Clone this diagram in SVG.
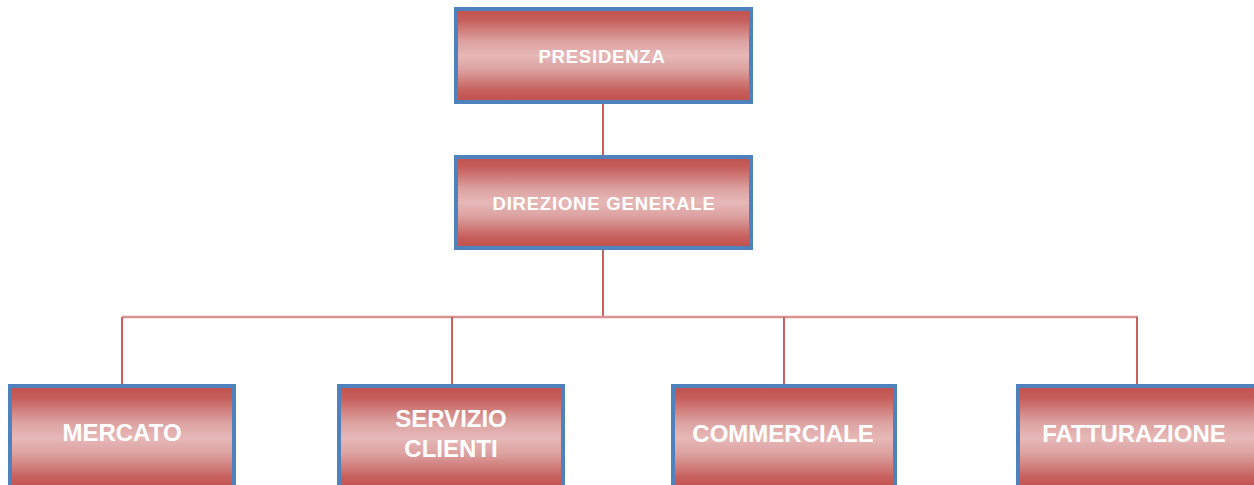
<svg xmlns="http://www.w3.org/2000/svg" width="1254" height="485" viewBox="0 0 1254 485">
<defs>
<linearGradient id="g" x1="0" y1="0" x2="0" y2="1">
<stop offset="0" stop-color="#c0504d"/>
<stop offset="0.12" stop-color="#c65f5c"/>
<stop offset="0.35" stop-color="#dca2a1"/>
<stop offset="0.5" stop-color="#e6b8b7"/>
<stop offset="0.65" stop-color="#dca2a1"/>
<stop offset="0.88" stop-color="#c65f5c"/>
<stop offset="1" stop-color="#c0504d"/>
</linearGradient>
</defs>
<style>
.box{fill:url(#g);stroke:#4f81bd;stroke-width:4}
.t1{font-family:"Liberation Sans",Arial,sans-serif;font-weight:bold;font-size:18.5px;letter-spacing:0.8px;fill:#ffffff;text-anchor:middle}
.t2{font-family:"Liberation Sans",Arial,sans-serif;font-weight:bold;font-size:24px;fill:#ffffff;text-anchor:middle}
.v{stroke:#c8605e;stroke-width:2;fill:none}
.h{stroke:#d99392;stroke-width:2.5;fill:none}
</style>
<rect width="1254" height="485" fill="#ffffff"/>
<g id="connectors">
<line class="v" x1="603" y1="103" x2="603" y2="156"/>
<line class="v" x1="603" y1="249" x2="603" y2="317"/>
<line class="h" x1="122" y1="317" x2="1138" y2="317"/>
<line class="v" x1="122" y1="317" x2="122" y2="384"/>
<line class="v" x1="452" y1="317" x2="452" y2="384"/>
<line class="v" x1="784" y1="317" x2="784" y2="384"/>
<line class="v" x1="1137" y1="317" x2="1137" y2="384"/>
</g>
<g id="presidenza">
<rect class="box" x="456" y="9" width="295" height="93"/>
<text class="t1" x="602" y="63">PRESIDENZA</text>
</g>
<g id="direzione">
<rect class="box" x="456" y="157" width="295" height="91"/>
<text class="t1" x="604" y="210">DIREZIONE GENERALE</text>
</g>
<g id="mercato">
<rect class="box" x="10" y="386" width="224" height="104"/>
<text class="t2" x="122" y="441">MERCATO</text>
</g>
<g id="servizio">
<rect class="box" x="339" y="386" width="224" height="104"/>
<text class="t2" x="451" y="427">SERVIZIO</text>
<text class="t2" x="451" y="457">CLIENTI</text>
</g>
<g id="commerciale">
<rect class="box" x="673" y="386" width="222" height="104"/>
<text class="t2" x="783" y="442">COMMERCIALE</text>
</g>
<g id="fatturazione">
<rect class="box" x="1018" y="386" width="240" height="104"/>
<text class="t2" x="1134" y="442">FATTURAZIONE</text>
</g>
</svg>
